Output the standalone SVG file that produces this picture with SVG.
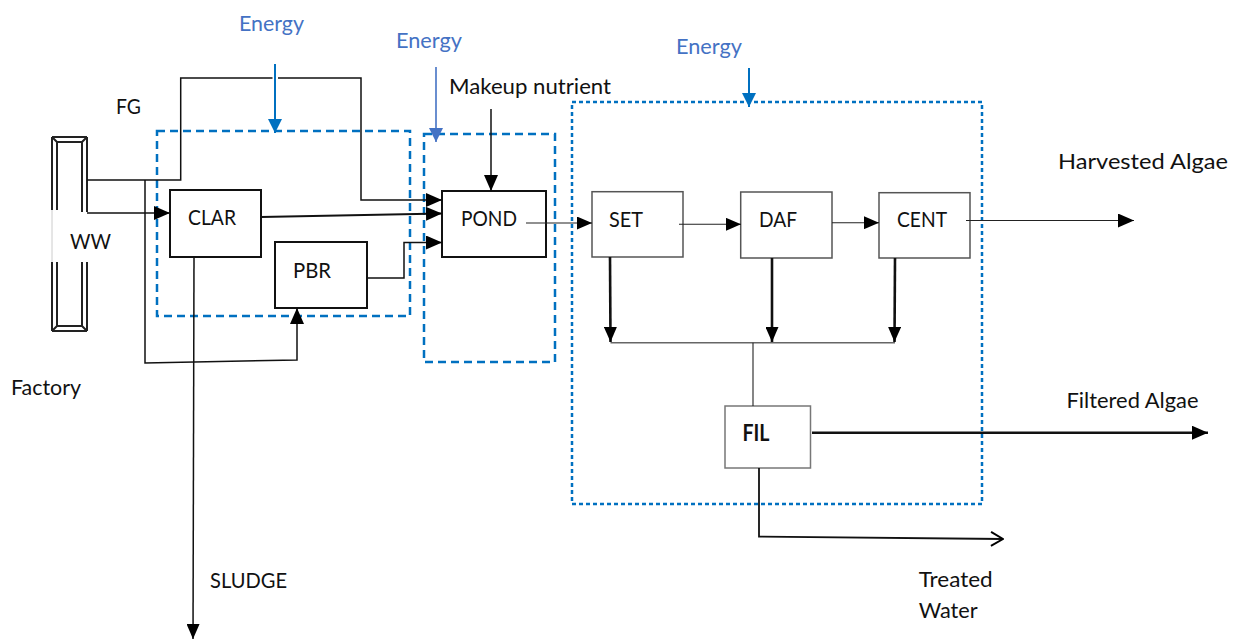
<svg xmlns="http://www.w3.org/2000/svg" width="1240" height="642" viewBox="0 0 1240 642">
<style>
text{font-family:Lato,"Liberation Sans",sans-serif;font-size:22px;fill:#111}
.en{fill:#4472C4}
.box{fill:#fff;stroke:#111;stroke-width:2}
.gbox{fill:#fff;stroke:#555;stroke-width:1.5}
.ln{fill:none;stroke:#111;stroke-width:1.5}
.thin{fill:none;stroke:#222;stroke-width:1.1}
.thick{fill:none;stroke:#111;stroke-width:2.6}
.dash{fill:none;stroke:#0070C0;stroke-width:2.5;stroke-dasharray:8 5}
.dot{fill:none;stroke:#0070C0;stroke-width:2.5;stroke-dasharray:4 3}
.frame{fill:none;stroke:#222;stroke-width:2}
</style>
<defs>
<marker id="arr" markerUnits="userSpaceOnUse" markerWidth="16" markerHeight="14" refX="16" refY="7" orient="auto"><path d="M0,0 L16,7 L0,14 z" fill="#000"/></marker>
<marker id="arrs" markerUnits="userSpaceOnUse" markerWidth="15" markerHeight="13" refX="15" refY="6.5" orient="auto"><path d="M0,0 L15,6.5 L0,13 z" fill="#000"/></marker>
<marker id="barr" markerUnits="userSpaceOnUse" markerWidth="14" markerHeight="14" refX="14" refY="7" orient="auto"><path d="M0,0 L14,7 L0,14 z" fill="#0070C0"/></marker>
<marker id="barr2" markerUnits="userSpaceOnUse" markerWidth="14" markerHeight="14" refX="14" refY="7" orient="auto"><path d="M0,0 L14,7 L0,14 z" fill="#4472C4"/></marker>
<marker id="open" markerUnits="userSpaceOnUse" markerWidth="14" markerHeight="16" refX="13" refY="8" orient="auto"><path d="M1,1 L13,8 L1,15" fill="none" stroke="#000" stroke-width="2"/></marker>
</defs>

<g id="energy-boxes">
<rect class="dash" x="157" y="131" width="253" height="185"/>
<rect class="dash" x="424" y="134" width="131" height="228"/>
<rect class="dot" x="572" y="102" width="410" height="402"/>
</g>

<g id="WW">
<path class="frame" d="M52,137 H87 M57,142 H82 M52,331 H87 M57,326 H82 M52,137 L57,142 M87,137 L82,142 M52,331 L57,326 M87,331 L82,326"/>
<path class="frame" d="M52,137 V210 M57,142 V210 M52,262 V331 M57,262 V326 M87,137 V212 M82,142 V212 M87,262 V331 M82,262 V326"/>
<path fill="none" stroke="#ccc" stroke-width="1" d="M52,210 V262"/>
<text x="70" y="248.5" textLength="41" lengthAdjust="spacingAndGlyphs">WW</text>
</g>

<g id="CLAR">
<rect class="box" x="170" y="190" width="91" height="67"/>
<text x="188" y="225" textLength="48" lengthAdjust="spacingAndGlyphs">CLAR</text>
</g>
<g id="PBR">
<rect class="box" x="275" y="242" width="92" height="66"/>
<text x="293" y="277.5" textLength="38" lengthAdjust="spacingAndGlyphs">PBR</text>
</g>
<g id="POND">
<rect class="box" x="442" y="191" width="104" height="66"/>
<text x="461" y="225.5" textLength="56" lengthAdjust="spacingAndGlyphs">POND</text>
</g>
<g id="SET">
<rect class="gbox" x="592" y="191.7" width="91" height="65.3"/>
<text x="609" y="226.5" textLength="34" lengthAdjust="spacingAndGlyphs">SET</text>
</g>
<g id="DAF">
<rect class="gbox" x="740.7" y="192" width="91.3" height="66"/>
<text x="759" y="226.5" textLength="38" lengthAdjust="spacingAndGlyphs">DAF</text>
</g>
<g id="CENT">
<rect class="gbox" x="879" y="192.7" width="91" height="65.3"/>
<text x="897" y="227" textLength="50" lengthAdjust="spacingAndGlyphs">CENT</text>
</g>
<g id="FIL">
<rect fill="#fff" stroke="#777" stroke-width="1.5" x="725" y="406" width="85.5" height="62"/>
<text x="742.5" y="440.5" font-weight="bold" textLength="27" lengthAdjust="spacingAndGlyphs">FIL</text>
</g>

<g id="connectors">
<!-- FG path to POND -->
<path class="ln" d="M87,180 H180.7 V78 H272.5 M278,78 H361 V200 H442" marker-end="url(#arr)"/>
<!-- WW to CLAR -->
<path class="ln" d="M87,213 H170" marker-end="url(#arr)"/>
<!-- branch to PBR -->
<path class="ln" d="M145,180 V363 L297,360 V308" marker-end="url(#arr)"/>
<!-- CLAR to POND -->
<path class="ln" style="stroke-width:2.2" d="M261,217 L442,213.5" marker-end="url(#arr)"/>
<!-- PBR to POND -->
<path class="ln" d="M367,278 H404 V242.5 H442" marker-end="url(#arr)"/>
<!-- Sludge -->
<path class="ln" d="M194,257 L193,639" marker-end="url(#arrs)"/>
<!-- Makeup nutrient -->
<path class="ln" d="M491,109 V191" marker-end="url(#arr)"/>
<!-- POND to SET -->
<path class="thin" d="M526,223 H592" marker-end="url(#arrs)"/>
<!-- SET to DAF -->
<path class="thin" d="M679,224.3 H741" marker-end="url(#arrs)"/>
<!-- DAF to CENT -->
<path class="thin" d="M832,222.7 H879" marker-end="url(#arrs)"/>
<!-- CENT to Harvested Algae -->
<path class="thin" d="M966,220.5 H1134" marker-end="url(#arr)"/>
<!-- down arrows -->
<path class="thick" d="M610,257 L610.5,342" marker-end="url(#arrs)"/>
<path class="thick" d="M772,258 V342" marker-end="url(#arrs)"/>
<path class="thick" d="M895,258 L894.5,342" marker-end="url(#arrs)"/>
<path fill="none" stroke="#666" stroke-width="1.6" d="M610.5,342.7 H895"/>
<path class="thin" d="M753,342.7 V406"/>
<!-- FIL outputs -->
<path class="thick" d="M812,432.7 H1208" marker-end="url(#arr)"/>
<path class="ln" style="stroke-width:1.8" d="M759,468 V536.5 L1003,539" marker-end="url(#open)"/>
<!-- energy arrows -->
<path fill="none" stroke="#0070C0" stroke-width="2" d="M275,64 V133" marker-end="url(#barr)"/>
<path fill="none" stroke="#4472C4" stroke-width="1.6" d="M436,67 V142" marker-end="url(#barr2)"/>
<path fill="none" stroke="#0070C0" stroke-width="2" d="M749,68 V107" marker-end="url(#barr)"/>
</g>

<g id="labels">
<text class="en" x="239" y="31" textLength="65" lengthAdjust="spacingAndGlyphs">Energy</text>
<text class="en" x="396" y="48" textLength="66" lengthAdjust="spacingAndGlyphs">Energy</text>
<text class="en" x="676" y="54" textLength="66" lengthAdjust="spacingAndGlyphs">Energy</text>
<text x="449" y="94.3" textLength="162" lengthAdjust="spacingAndGlyphs">Makeup nutrient</text>
<text x="116" y="114.3" textLength="25" lengthAdjust="spacingAndGlyphs">FG</text>
<text x="11" y="395" textLength="70" lengthAdjust="spacingAndGlyphs">Factory</text>
<text x="210" y="587.7" textLength="77" lengthAdjust="spacingAndGlyphs">SLUDGE</text>
<text x="1058" y="169" textLength="170" lengthAdjust="spacingAndGlyphs">Harvested Algae</text>
<text x="1066.5" y="408" textLength="132" lengthAdjust="spacingAndGlyphs">Filtered Algae</text>
<text x="918.7" y="587.3" textLength="74" lengthAdjust="spacingAndGlyphs">Treated</text>
<text x="918.7" y="618.3" textLength="59" lengthAdjust="spacingAndGlyphs">Water</text>
</g>
</svg>
